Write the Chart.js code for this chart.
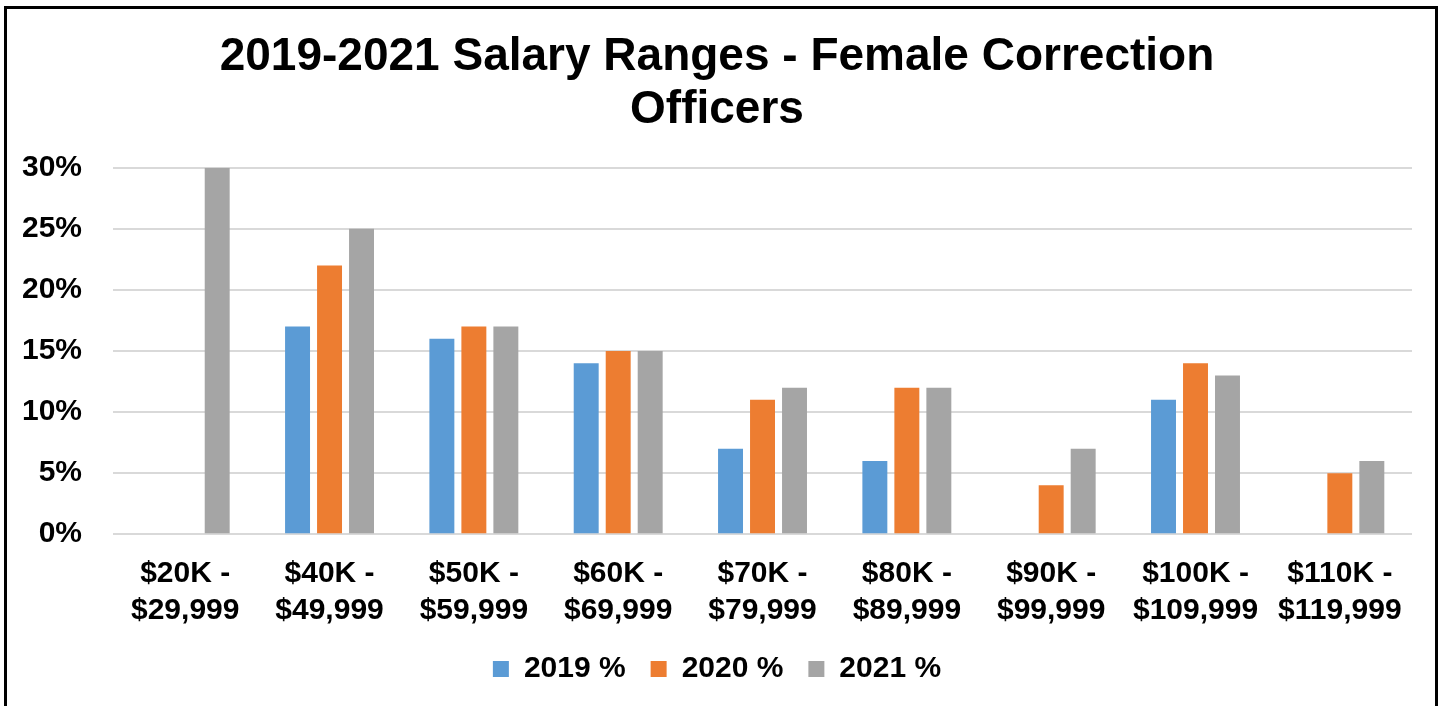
<!DOCTYPE html>
<html>
<head>
<meta charset="utf-8">
<title>2019-2021 Salary Ranges - Female Correction Officers</title>
<script src="https://cdn.jsdelivr.net/npm/chart.js@4/dist/chart.umd.min.js"></script>
<style>
  html, body { margin: 0; padding: 0; background: #fff; overflow: hidden; }
  .frame {
    position: absolute; left: 4px; top: 6px;
    width: 1434px; height: 720px; box-sizing: border-box;
    border: 3px solid #000; border-bottom: none; background: #fff;
  }
  .chart-box { position: relative; width: 1428px; height: 685px; }
</style>
</head>
<body>
<div class="frame">
  <div class="chart-box"><canvas id="salaryChart"></canvas></div>
</div>
<script>
// Salary bands (two-line labels) and share of officers per band
const categories = [
    ['$20K -', '$29,999'], ['$40K -', '$49,999'], ['$50K -', '$59,999'],
    ['$60K -', '$69,999'], ['$70K -', '$79,999'], ['$80K -', '$89,999'],
    ['$90K -', '$99,999'], ['$100K -', '$109,999'], ['$110K -', '$119,999']
];
const pct2019 = [null, 17, 16, 14, 7, 6, null, 11, null];
const pct2020 = [null, 22, 17, 15, 11, 12, 4, 14, 5];
const pct2021 = [30, 25, 17, 15, 12, 12, 7, 13, 6];
const yTicks = [0, 5, 10, 15, 20, 25, 30];

document.addEventListener('DOMContentLoaded', function() {
    const FONT = "'Liberation Sans', Arial, sans-serif";
    const ctx = document.getElementById('salaryChart').getContext('2d');

    const bar = (label, data, color) => ({
        label: label,
        data: data,
        backgroundColor: color,
        borderWidth: 0,
        categoryPercentage: 0.665,
        barPercentage: 0.78
    });

    new Chart(ctx, {
        type: 'bar',
        data: {
            labels: categories,
            datasets: [
                bar('2019 %', pct2019, '#5B9BD5'),
                bar('2020 %', pct2020, '#ED7D31'),
                bar('2021 %', pct2021, '#A5A5A5')
            ]
        },
        options: {
            responsive: true,
            maintainAspectRatio: false,
            animation: false,
            layout: { padding: { left: 15, right: 23, top: 0, bottom: 0 } },
            scales: {
                x: {
                    grid: { display: false, drawTicks: false },
                    border: { display: false },
                    // fit() counts tick padding on both sides, keep only one
                    afterFit: axis => { axis.height -= axis.options.ticks.padding; },
                    ticks: {
                        color: '#000',
                        autoSkip: false,
                        maxRotation: 0,
                        padding: 21,
                        font: { family: FONT, size: 30, weight: 'bold', lineHeight: 1.23 }
                    }
                },
                y: {
                    min: 0,
                    max: 30,
                    afterBuildTicks: axis => { axis.ticks = yTicks.map(v => ({ value: v })); },
                    afterFit: axis => { axis.width -= axis.options.ticks.padding; },
                    grid: { color: '#D9D9D9', lineWidth: 2, drawTicks: false },
                    border: { display: false },
                    ticks: {
                        color: '#000',
                        padding: 31,
                        font: { family: FONT, size: 30, weight: 'bold' },
                        callback: v => v + '%'
                    }
                }
            },
            plugins: {
                title: {
                    display: true,
                    text: ['2019-2021 Salary Ranges - Female Correction', 'Officers'],
                    color: '#000',
                    font: { family: FONT, size: 46, weight: 'bold', lineHeight: 1.15 },
                    padding: { top: 22, bottom: 31 }
                },
                legend: {
                    position: 'bottom',
                    labels: {
                        color: '#000',
                        boxWidth: 16,
                        boxHeight: 16,
                        padding: 25,
                        font: { family: FONT, size: 30, weight: 'bold' }
                    }
                },
                tooltip: { enabled: false }
            }
        }
    });
});
</script>
</body>
</html>
